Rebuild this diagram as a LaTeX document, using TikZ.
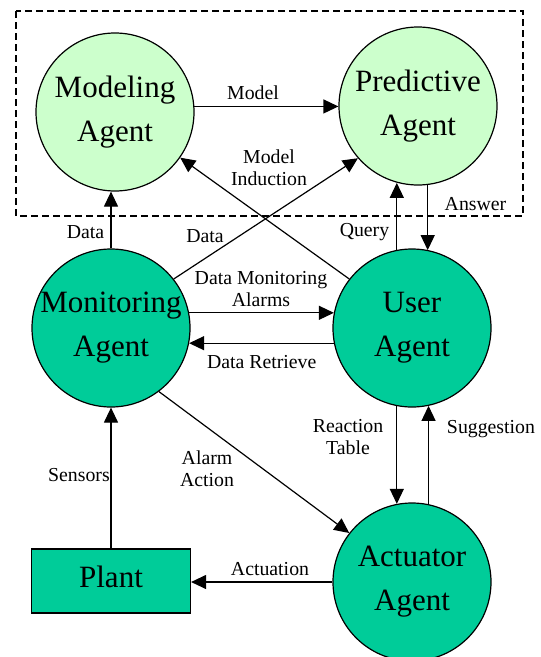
\documentclass[tikz,border=0pt]{standalone}
\usepackage{fontspec}
\setmainfont{Liberation Serif}
\usetikzlibrary{arrows.meta}
\definecolor{lightgr}{HTML}{CCFFCC}
\definecolor{tealgr}{HTML}{00CC99}
\begin{document}
\begin{tikzpicture}[x=1pt,y=-1pt,
  agent/.style={circle,draw,line width=1.2pt,minimum size=158pt,inner sep=0pt,align=center,font=\fontsize{31}{44}\selectfont},
  upperagent/.style={agent,fill=lightgr},
  loweragent/.style={agent,fill=tealgr},
  conn/.style={line width=1.2pt,-{Triangle[length=15pt,width=14pt]}},
  lbl/.style={font=\fontsize{19.8}{22}\selectfont,align=center,inner sep=0pt}]
\useasboundingbox (0,0) rectangle (541,657);
\draw[line width=1.3pt,dash pattern=on 7pt off 4pt] (16,11) rectangle (523,216);
\node[upperagent] (mod) at (115,112) {Modeling\\Agent};
\node[upperagent] (pred) at (418,106) {Predictive\\Agent};
\node[loweragent] (mon) at (111,328) {Monitoring\\Agent};
\node[loweragent] (user) at (412,328) {User\\Agent};
\node[loweragent] (act) at (412,582) {Actuator\\Agent};
\node[draw,fill=tealgr,line width=1.2pt,minimum width=159pt,minimum height=64pt,inner sep=0pt,text height=12pt,text depth=0pt,font=\fontsize{31}{44}\selectfont] (plant) at (111,581) {Plant};
% connectors
\draw[conn] (mod.4) -- (mod.4 -| pred.west);
\draw[conn] (mon.north) -- (mon.north |- mod.south);
\draw[conn] (mon.38) -- (pred.221);
\draw[conn] (user.142) -- (mod.-35);
\draw[conn] (mon.11) -- (user.169);
\draw[conn] (user.191) -- (mon.-11);
\draw[conn] (user.101) -- (user.101 |- pred.255);
\draw[conn] (pred.277) -- (pred.277 |- user.78);
\draw[conn] (user.259) -- (user.259 |- act.101);
\draw[conn] (act.78) -- (act.78 |- user.282);
\draw[conn] (mon.-53) -- (act.142);
\draw[conn] (act.west) -- (act.west -| plant.east);
\draw[conn] (plant.north) -- (mon.south);
% labels
\node[lbl,anchor=base] (lData1) at (85.5,238) {Data};
\node[lbl,anchor=base] (lData2) at (205,242) {Data};
\node[lbl,anchor=base] (lModel) at (253,99) {Model};
\node[lbl] (lInd) at (269,167.3) {Model\\Induction};
\node[lbl,anchor=base] (lQuery) at (364.5,236.7) {Query};
\node[lbl,anchor=base] (lAns) at (475.5,210.7) {Answer};
\node[lbl] (lDMA) at (261,289.1) {Data Monitoring\\Alarms};
\node[lbl,anchor=base] (lDR) at (261.7,368) {Data Retrieve};
\node[lbl] (lRT) at (348,437.3) {Reaction\\Table};
\node[lbl,anchor=base] (lSug) at (491,433) {Suggestion};
\node[lbl] (lAA) at (207,469) {Alarm\\Action};
\node[lbl,anchor=base] (lSen) at (79,481) {Sensors};
\node[lbl,anchor=base] (lAct) at (270,575) {Actuation};
\end{tikzpicture}
\end{document}
